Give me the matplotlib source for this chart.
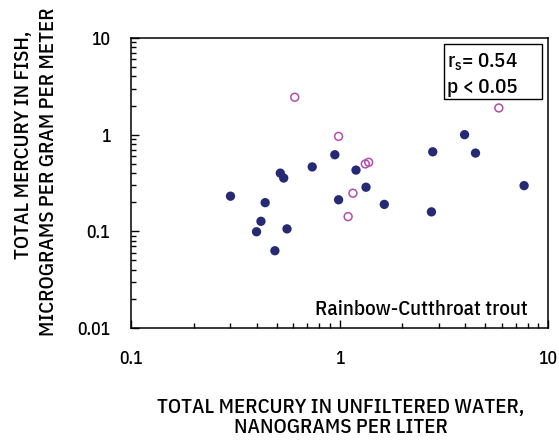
import matplotlib.pyplot as plt
from matplotlib.patches import Rectangle
from matplotlib.ticker import LogLocator, NullFormatter, FixedLocator, FixedFormatter

# water Hg (ng/L) vs fish Hg (ug/g), rainbow-cutthroat trout
water_filled = [0.30, 0.40, 0.42, 0.44, 0.49, 0.52, 0.54, 0.56, 0.74, 0.95,
                0.99, 1.20, 1.34, 1.64, 2.76, 2.80, 3.98, 4.49, 7.68]
fish_filled = [0.231, 0.099, 0.127, 0.198, 0.063, 0.40, 0.356, 0.106, 0.464, 0.62,
               0.212, 0.43, 0.286, 0.19, 0.159, 0.665, 1.0, 0.645, 0.297]
water_open = [0.61, 0.99, 1.33, 1.38, 1.16, 1.10, 5.81]
fish_open = [2.44, 0.96, 0.498, 0.518, 0.248, 0.142, 1.89]

y_ticks = [0.01, 0.1, 1, 10]
y_tick_labels = ['0.01', '0.1', '1', '10']
x_ticks = [0.1, 1, 10]
x_tick_labels = ['0.1', '1', '10']

plt.rcParams['font.family'] = ['IBM Plex Sans Condensed', 'Roboto Condensed', 'DejaVu Sans']
plt.rcParams['font.weight'] = 500

W, H = 559, 445
fig = plt.figure(figsize=(W / 100, H / 100), dpi=100)
ax = fig.add_axes([131 / W, 1 - 328 / H, 417 / W, 290 / H])


def px(x, y):
    # pixel position (from top-left) -> figure fraction
    return x / W, 1 - y / H


ax.scatter(water_filled, fish_filled, s=45, color='#262a74', edgecolors='none', zorder=3)
ax.scatter(water_open, fish_open, s=32, facecolors='none', edgecolors='#b54bb0',
           linewidths=1.1, zorder=3)

ax.set_xscale('log')
ax.set_yscale('log')
ax.set_xlim(0.1, 10)
ax.set_ylim(0.01, 10)

ax.xaxis.set_major_locator(FixedLocator(x_ticks))
ax.xaxis.set_major_formatter(FixedFormatter(x_tick_labels))
ax.yaxis.set_major_locator(FixedLocator(y_ticks))
ax.yaxis.set_major_formatter(FixedFormatter(y_tick_labels))
for axis in (ax.xaxis, ax.yaxis):
    axis.set_minor_locator(LogLocator(base=10, subs=range(2, 10)))
    axis.set_minor_formatter(NullFormatter())

ax.tick_params(which='both', direction='in', top=False, right=False,
               labelsize=12.7, width=1)
ax.tick_params(which='major', length=5.5)
ax.tick_params(axis='x', which='major', pad=16)
ax.tick_params(axis='y', which='major', pad=15)
ax.tick_params(which='minor', length=3.5)
for s in ax.spines.values():
    s.set_linewidth(1.1)

# axis titles, drawn line by line
fig.text(*px(341, 413), 'TOTAL MERCURY IN UNFILTERED WATER,', ha='center', va='baseline', fontsize=15)
fig.text(*px(341, 433), 'NANOGRAMS PER LITER', ha='center', va='baseline', fontsize=15)
fig.text(*px(29, 145), 'TOTAL MERCURY IN FISH,', ha='center', va='baseline', fontsize=15,
         rotation=90, rotation_mode='anchor')
fig.text(*px(54, 172), 'MICROGRAMS PER GRAM PER METER', ha='center', va='baseline', fontsize=15,
         rotation=90, rotation_mode='anchor')

fig.text(*px(528, 315), 'Rainbow-Cutthroat trout', ha='right', va='baseline', fontsize=15)

# stats box
fig.add_artist(Rectangle(px(444, 99), 98 / W, 55 / H, transform=fig.transFigure,
                         facecolor='white', edgecolor='black', linewidth=1, zorder=4))
fig.text(*px(447, 68), '$\\mathregular{r_s}$= 0.54', ha='left', va='baseline', fontsize=15, zorder=5)
fig.text(*px(447, 93), 'p < 0.05', ha='left', va='baseline', fontsize=15, zorder=5)

fig.savefig('out.png', dpi=100)
